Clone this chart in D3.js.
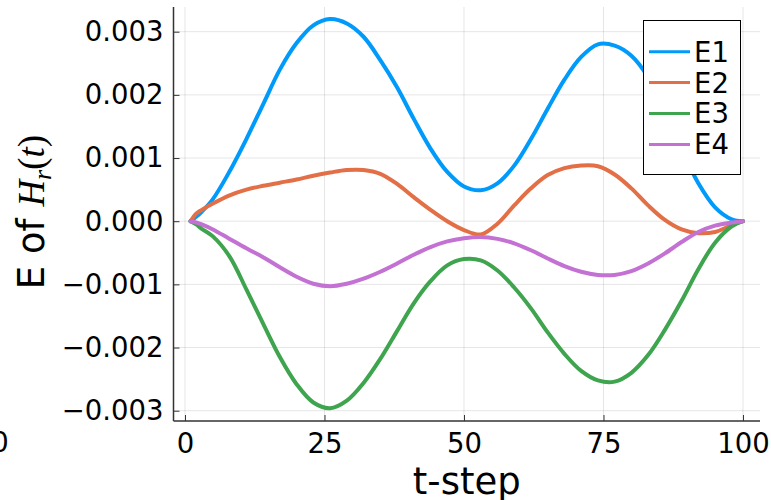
<!DOCTYPE html>
<html><head><meta charset="utf-8">
<script src="https://cdn.jsdelivr.net/npm/d3@7"></script>
<style>body{margin:0;background:#fff}svg{display:block}</style>
</head><body>
<svg id="c" width="771" height="500"></svg>
<script>
const tSteps = [1,2,3,5,8,11,14,17,20,23,26,29,32,35,38,41,44,47,50,53,56,59,62,65,68,71,74,77,80,83,86,89,92,95,98,100];
const E1 = [0,0.00007,0.00015,0.00035,0.00079,0.00130,0.00185,0.00240,0.00282,0.00310,0.00320,0.00313,0.00292,0.00255,0.00212,0.00162,0.00115,0.00078,0.00055,0.00049,0.00060,0.00088,0.00130,0.00178,0.00224,0.00260,0.00280,0.00278,0.00262,0.00228,0.00174,0.00114,0.00060,0.00022,0.00003,0];
const E2 = [0,0.00012,0.00018,0.00028,0.00041,0.00050,0.00056,0.00061,0.00066,0.00072,0.00077,0.00081,0.00081,0.00075,0.00059,0.00038,0.00018,0.00000,-0.00014,-0.00021,-0.00004,0.00025,0.00052,0.00073,0.00084,0.00088,0.00087,0.00074,0.00052,0.00025,0.00002,-0.00013,-0.00019,-0.00017,-0.00006,0];
const E3 = [0,-0.00005,-0.00012,-0.00024,-0.00056,-0.00108,-0.00162,-0.00215,-0.00258,-0.00287,-0.00296,-0.00284,-0.00256,-0.00218,-0.00174,-0.00130,-0.00095,-0.00070,-0.00060,-0.00062,-0.00078,-0.00105,-0.00138,-0.00176,-0.00210,-0.00237,-0.00252,-0.00254,-0.00240,-0.00212,-0.00172,-0.00126,-0.00076,-0.00034,-0.00008,0];
const E4 = [0,-0.00002,-0.00005,-0.00013,-0.00028,-0.00043,-0.00057,-0.00073,-0.00088,-0.00099,-0.00103,-0.00099,-0.00091,-0.00080,-0.00067,-0.00053,-0.00041,-0.00032,-0.00027,-0.00025,-0.00028,-0.00035,-0.00046,-0.00059,-0.00071,-0.00080,-0.00085,-0.00085,-0.00079,-0.00067,-0.00051,-0.00033,-0.00017,-0.00007,-0.00002,0];
const seriesNames = ["E1","E2","E3","E4"];
const seriesColors = ["#009AFA","#E36F47","#3EA44E","#C371D2"];
const xTicks = [0,25,50,75,100];
const yTicks = [-0.003,-0.002,-0.001,0,0.001,0.002,0.003];

const svg = d3.select("#c");
const L = 173.5, R = 760, T = 7, B = 421;
const x = d3.scaleLinear().domain([-2.06, 103.05]).range([L, R]);
const y = d3.scaleLinear().domain([-0.003163, 0.003391]).range([B, T]);
const FONT = "DejaVu Sans, sans-serif";

// grid
const grid = svg.append("g").attr("stroke","#000").attr("stroke-opacity",0.1).attr("stroke-width",1);
xTicks.forEach(v => grid.append("line").attr("x1",x(v)).attr("x2",x(v)).attr("y1",T).attr("y2",B));
yTicks.forEach(v => grid.append("line").attr("x1",L).attr("x2",R).attr("y1",y(v)).attr("y2",y(v)));

// axes
const xAxis = d3.axisBottom(x).tickValues(xTicks).tickSize(-6).tickPadding(12).tickFormat(d3.format("d"));
const gx = svg.append("g").attr("transform",`translate(0,${B})`).call(xAxis);
const fmtY = v => (v < 0 ? "\u2212" : "") + Math.abs(v).toFixed(3);
const yAxis = d3.axisLeft(y).tickValues(yTicks).tickSize(-6).tickPadding(10).tickFormat(fmtY);
const gy = svg.append("g").attr("transform",`translate(${L},0)`).call(yAxis);
[gx, gy].forEach(g => {
  g.select(".domain").attr("stroke","#333").attr("stroke-width",1.5);
  g.selectAll(".tick line").attr("stroke","#333").attr("stroke-width",1);
  g.selectAll(".tick text").attr("font-family",FONT).attr("font-size",27.5).attr("fill","#000");
});
gy.select(".domain").attr("d",`M0,${B}V${T}`);
gx.select(".domain").attr("d",`M${L},0H${R}`);

// lines
const seriesData = [E1,E2,E3,E4];
const line = d3.line().x((d,i) => x(tSteps[i])).y(d => y(d)).curve(d3.curveCatmullRom.alpha(0.5));
seriesData.forEach((s,i) => {
  svg.append("path").datum(s).attr("d",line).attr("fill","none")
    .attr("stroke",seriesColors[i]).attr("stroke-width",4).attr("stroke-linejoin","round").attr("stroke-linecap","round");
});

// legend
const lg = svg.append("g");
lg.append("rect").attr("x",643.5).attr("y",20.5).attr("width",97).attr("height",154)
  .attr("fill","#fff").attr("stroke","#000").attr("stroke-width",1);
seriesNames.forEach((n,i) => {
  const yy = 51.7 + i*30.9;
  lg.append("line").attr("x1",649).attr("x2",690).attr("y1",yy).attr("y2",yy)
    .attr("stroke",seriesColors[i]).attr("stroke-width",3);
  lg.append("text").attr("x",694).attr("y",yy).attr("dy","0.36em")
    .attr("font-family",FONT).attr("font-size",27.5).text(n);
});

// axis labels
svg.append("text").attr("x",(L+R)/2).attr("y",494).attr("text-anchor","middle")
  .attr("font-family",FONT).attr("font-size",37).text("t-step");
const yl = svg.append("text").attr("transform","translate(44,212) rotate(-90)").attr("text-anchor","middle")
  .attr("font-family",FONT).attr("font-size",37);
yl.append("tspan").text("E of ");
yl.append("tspan").attr("font-family","Liberation Serif, serif").attr("font-style","italic").text("H");
yl.append("tspan").attr("font-family","Liberation Serif, serif").attr("font-style","italic").attr("font-size",26).attr("dy",7).text("r");
yl.append("tspan").attr("font-family","Liberation Serif, serif").attr("dy",-7).text("(");
yl.append("tspan").attr("font-family","Liberation Serif, serif").attr("font-style","italic").text("t");
yl.append("tspan").attr("font-family","Liberation Serif, serif").text(")");

// stray clipped tick label at bottom-left
svg.append("text").attr("x",0).attr("y",452).attr("text-anchor","middle")
  .attr("font-family",FONT).attr("font-size",27.5).text("0");
</script>
</body></html>
